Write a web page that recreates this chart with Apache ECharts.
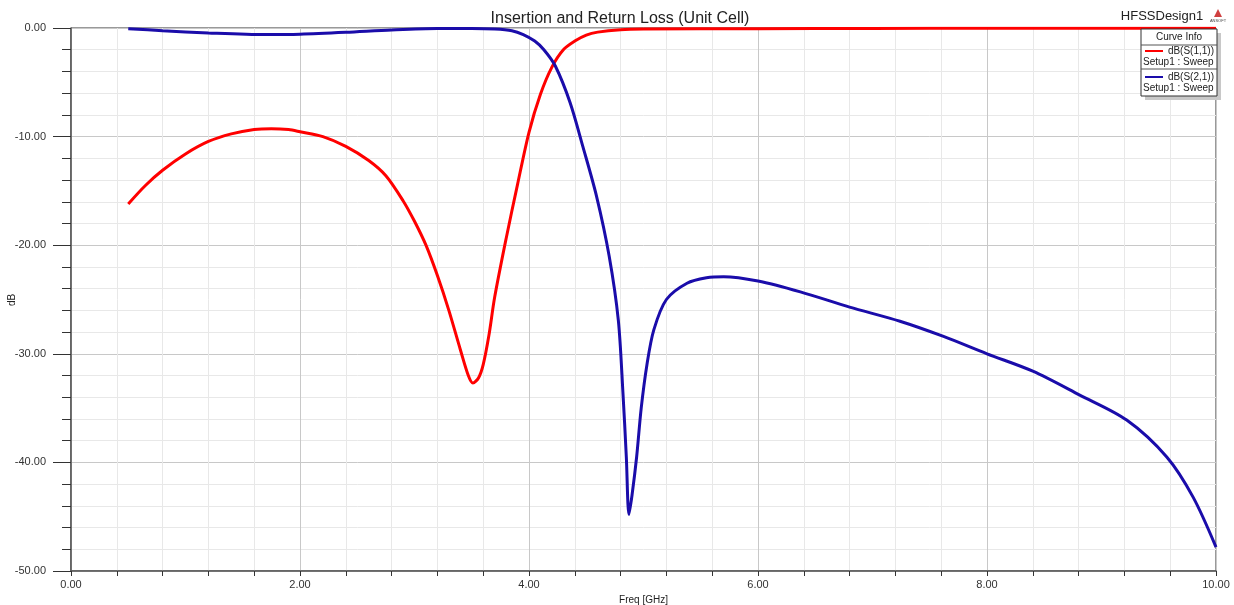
<!DOCTYPE html>
<html>
<head>
<meta charset="utf-8">
<script src="https://cdn.jsdelivr.net/npm/echarts@6/dist/echarts.min.js"></script>
<style>
html,body{margin:0;padding:0;background:#fff;}
#chart{width:1234px;height:605px;}
</style>
</head>
<body>
<div id="chart"></div>
<script>
// ---- data ----
const s11Freq = [0.5,0.65,0.8,1.0,1.2,1.4,1.6,1.75,1.9,2.0,2.2,2.4,2.6,2.75,2.9,3.0,3.1,3.2,3.3,3.4,3.47,3.51,3.56,3.6,3.65,3.7,3.8,3.9,4.0,4.1,4.2,4.3,4.4,4.5,4.6,4.8,5.0,6.0,7.0,8.0,9.0,10.0];
const s11dB   = [-16.2,-14.5,-13.1,-11.6,-10.45,-9.75,-9.35,-9.27,-9.35,-9.55,-10.0,-10.9,-12.2,-13.6,-15.9,-17.8,-20.0,-22.8,-26.0,-29.6,-32.0,-32.7,-32.2,-31.0,-28.3,-24.8,-19.4,-14.4,-9.6,-6.1,-3.6,-2.0,-1.2,-0.65,-0.38,-0.16,-0.1,-0.06,-0.04,-0.03,-0.02,-0.02];
const s21Freq = [0.5,0.8,1.2,1.7,2.0,2.4,2.8,3.2,3.5,3.7,3.85,3.95,4.05,4.13,4.23,4.36,4.47,4.59,4.7,4.78,4.82,4.85,4.873,4.9,4.94,4.98,5.03,5.09,5.2,5.38,5.55,5.7,6.0,6.37,6.8,7.24,7.62,8.0,8.4,8.81,9.22,9.57,9.8,10.0];
const s21dB   = [-0.06,-0.25,-0.45,-0.6,-0.57,-0.4,-0.18,-0.05,-0.05,-0.1,-0.25,-0.6,-1.2,-2.0,-3.5,-6.9,-10.9,-15.5,-21.0,-26.9,-33.5,-39.5,-44.8,-43.0,-39.5,-35.0,-31.0,-27.8,-25.0,-23.5,-23.0,-22.9,-23.3,-24.3,-25.7,-27.0,-28.4,-30.0,-31.6,-33.8,-36.1,-39.5,-43.2,-47.8];
const seriesNames = ['dB(S(1,1))','dB(S(2,1))'];
const setupLabel = 'Setup1 : Sweep';
const xTicks = {min:0, max:10, interval:2};
const yTicks = {min:-50, max:0, interval:10};

const RED = '#ff0000', BLUE = '#1a0caa';
const FONT = 'Arial, "Liberation Sans", sans-serif';

const chart = echarts.init(document.getElementById('chart'), null, {renderer:'canvas'});
const pair = (xs, ys) => xs.map((x,i)=>[x, ys[i]]);

// legend box (HFSS "Curve Info") drawn as graphic
const LX = 1141, LY = 29, LW = 76, LH = 67;
const legendGraphic = [
  {type:'rect', shape:{x:LX+4, y:LY+4, width:LW, height:LH}, style:{fill:'#c8c8c8'}, z:100},
  {type:'rect', shape:{x:LX, y:LY, width:LW, height:LH}, style:{fill:'#fff', stroke:'#333', lineWidth:1}, z:101},
  {type:'text', x:LX+LW/2, y:LY+8, style:{text:'Curve Info', font:'10px '+FONT, fill:'#222', textAlign:'center', textVerticalAlign:'middle'}, z:102},
  {type:'line', shape:{x1:LX, y1:LY+16, x2:LX+LW, y2:LY+16}, style:{stroke:'#555', lineWidth:1}, z:102},
  {type:'line', shape:{x1:LX+4, y1:LY+22, x2:LX+22, y2:LY+22}, style:{stroke:RED, lineWidth:2}, z:102},
  {type:'text', x:LX+LW-3, y:LY+22, style:{text:seriesNames[0], font:'10px '+FONT, fill:'#222', textAlign:'right', textVerticalAlign:'middle'}, z:102},
  {type:'text', x:LX+2, y:LY+33, style:{text:setupLabel, font:'10px '+FONT, fill:'#222', textAlign:'left', textVerticalAlign:'middle'}, z:102},
  {type:'line', shape:{x1:LX, y1:LY+40, x2:LX+LW, y2:LY+40}, style:{stroke:'#555', lineWidth:1}, z:102},
  {type:'line', shape:{x1:LX+4, y1:LY+48, x2:LX+22, y2:LY+48}, style:{stroke:BLUE, lineWidth:2}, z:102},
  {type:'text', x:LX+LW-3, y:LY+48, style:{text:seriesNames[1], font:'10px '+FONT, fill:'#222', textAlign:'right', textVerticalAlign:'middle'}, z:102},
  {type:'text', x:LX+2, y:LY+59, style:{text:setupLabel, font:'10px '+FONT, fill:'#222', textAlign:'left', textVerticalAlign:'middle'}, z:102},
  // design name + small logo
  {type:'text', x:1162, y:16, style:{text:'HFSSDesign1', font:'13px '+FONT, fill:'#222', textAlign:'center', textVerticalAlign:'middle'}},
  {type:'polygon', shape:{points:[[1218,9],[1214,17],[1222,17]]}, style:{fill:'#d04040'}},
  {type:'text', x:1218, y:21, style:{text:'ANSOFT', font:'4px '+FONT, fill:'#444', textAlign:'center', textVerticalAlign:'middle'}},
  // y-axis name
  {type:'text', x:12, y:300, rotation:Math.PI/2, style:{text:'dB', font:'10px '+FONT, fill:'#222', textAlign:'center', textVerticalAlign:'middle'}}
];

const option = {
  animation:false,
  backgroundColor:'#fff',
  title:{
    text:'Insertion and Return Loss (Unit Cell)',
    left:615, top:6, textAlign:'center',
    textStyle:{fontFamily:FONT, fontSize:16, fontWeight:'normal', color:'#222'}
  },
  grid:{left:71, right:18, top:28, bottom:34, containLabel:false, outerBoundsMode:'none',
        show:true, borderColor:'#333', borderWidth:1, backgroundColor:'transparent'},
  xAxis:{
    type:'value', min:xTicks.min, max:xTicks.max, interval:xTicks.interval,
    name:'Freq [GHz]', nameLocation:'middle', nameGap:17,
    nameTextStyle:{fontFamily:FONT, fontSize:10, color:'#222'},
    axisLine:{show:true, onZero:false, lineStyle:{color:'#555', width:1.5}},
    axisTick:{show:true, length:5, lineStyle:{color:'#333'}},
    minorTick:{show:true, splitNumber:5, length:5, lineStyle:{color:'#333'}},
    axisLabel:{fontFamily:FONT, fontSize:11, color:'#333', margin:8, formatter:v=>v.toFixed(2)},
    splitLine:{show:true, lineStyle:{color:'#c8c8c8', width:1}},
    minorSplitLine:{show:true, lineStyle:{color:'#e8e8e8', width:1}}
  },
  yAxis:{
    type:'value', min:yTicks.min, max:yTicks.max, interval:yTicks.interval,
    axisLine:{show:true, onZero:false, lineStyle:{color:'#555', width:1.5}},
    axisTick:{show:true, length:18, lineStyle:{color:'#333'}},
    minorTick:{show:true, splitNumber:5, length:9, lineStyle:{color:'#333'}},
    axisLabel:{fontFamily:FONT, fontSize:11, color:'#333', margin:25, formatter:v=>v.toFixed(2)},
    splitLine:{show:true, lineStyle:{color:'#c8c8c8', width:1}},
    minorSplitLine:{show:true, lineStyle:{color:'#e8e8e8', width:1}}
  },
  series:[
    {name:seriesNames[0], type:'line', data:pair(s11Freq, s11dB), showSymbol:false, smooth:0.3,
     lineStyle:{color:RED, width:3}, itemStyle:{color:RED}, z:3},
    {name:seriesNames[1], type:'line', data:pair(s21Freq, s21dB), showSymbol:false, smooth:0.3,
     lineStyle:{color:BLUE, width:3}, itemStyle:{color:BLUE}, z:4}
  ],
  graphic: legendGraphic
};
chart.setOption(option);
</script>
</body>
</html>
